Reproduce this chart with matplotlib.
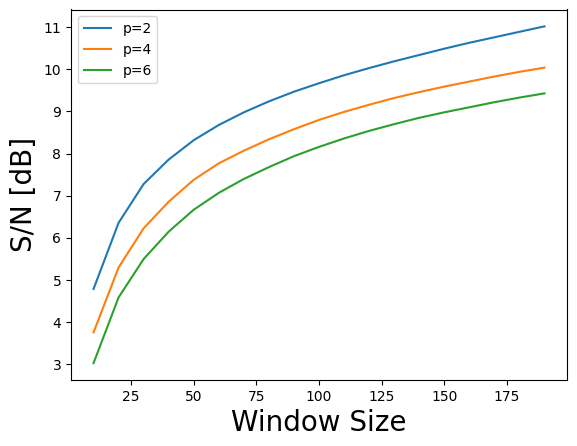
import matplotlib
matplotlib.use("Agg")
import matplotlib.pyplot as plt

window = [10, 20, 30, 40, 50, 60, 70, 80, 90, 100, 110, 120, 130, 140, 150, 160, 170, 180, 190]
sn_p2 = [4.79, 6.36, 7.28, 7.86, 8.32, 8.68, 8.98, 9.24, 9.47, 9.67, 9.86, 10.03, 10.19, 10.34, 10.49, 10.63, 10.76, 10.89, 11.02]
sn_p4 = [3.76, 5.30, 6.23, 6.86, 7.38, 7.77, 8.07, 8.34, 8.58, 8.80, 8.99, 9.16, 9.32, 9.46, 9.59, 9.71, 9.83, 9.94, 10.04]
sn_p6 = [3.03, 4.59, 5.50, 6.15, 6.67, 7.07, 7.40, 7.68, 7.94, 8.16, 8.36, 8.54, 8.70, 8.85, 8.98, 9.10, 9.22, 9.33, 9.43]
labels = ["p=2", "p=4", "p=6"]

fig = plt.figure(figsize=(5.77, 4.46), dpi=100)
ax = fig.add_axes([71/577, 1-380/446, (567-71)/577, (380-9.5)/446])
for ys, lab in zip([sn_p2, sn_p4, sn_p6], labels):
    ax.plot(window, ys, label=lab)
ax.set_xlabel("Window Size", fontsize=20)
ax.set_ylabel("S/N [dB]", fontsize=20)
ax.legend(loc="upper left")
fig.savefig("out.png", dpi=100)
